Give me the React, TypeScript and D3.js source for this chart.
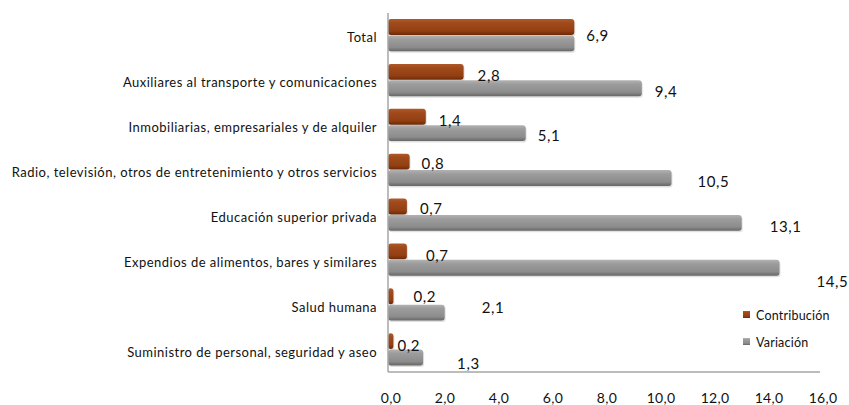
import React from "react";
import * as d3 from "d3";

const categories = [
  "Total",
  "Auxiliares al transporte y comunicaciones",
  "Inmobiliarias, empresariales y de alquiler",
  "Radio, televisión, otros de entretenimiento y otros servicios",
  "Educación superior privada",
  "Expendios de alimentos, bares y similares",
  "Salud humana",
  "Suministro de personal, seguridad y aseo",
];
const contribucion = [6.9, 2.8, 1.4, 0.8, 0.7, 0.7, 0.2, 0.2];
const variacion = [6.9, 9.4, 5.1, 10.5, 13.1, 14.5, 2.1, 1.3];
const seriesNames = ["Contribución", "Variación"];
const xTicks = [0, 2, 4, 6, 8, 10, 12, 14, 16];

// layout nudges for the manually placed value labels (px)
const contribLabelNudge = [
  [12, 8], [14, 3], [13, 3], [12, 1], [13, 1], [19, 3], [20, 0], [4, 4],
];
const varLabelNudge = [
  null, [13, 2], [12, 2], [26, 3], [28, 3], [37, 13], [37, -6], [34, 5],
];

const W = 849;
const H = 405;
const fmt = (v: number) => v.toFixed(1).replace(".", ",");

export default function App() {
  const x = d3.scaleLinear().domain([0, 16]).range([388, 820]);
  const y = d3
    .scaleBand<string>()
    .domain(categories)
    .range([13, 372])
    .paddingInner(0.27)
    .paddingOuter(0.135);
  const sub = d3.scaleBand<string>().domain(seriesNames).range([0, y.bandwidth()]);
  const bh = sub.bandwidth();
  const font = "Lato, 'Open Sans', sans-serif";

  return (
    <svg
      width={W}
      height={H}
      style={{ position: "absolute", left: 0, top: 0, background: "#fff" }}
    >
      <defs>
        <linearGradient id="gBrown" x1="0" y1="0" x2="0" y2="1">
          <stop offset="0" stopColor="#b05a2c" />
          <stop offset="0.25" stopColor="#a04a1c" />
          <stop offset="0.75" stopColor="#933f12" />
          <stop offset="1" stopColor="#6a2a08" />
        </linearGradient>
        <linearGradient id="gGray" x1="0" y1="0" x2="0" y2="1">
          <stop offset="0" stopColor="#b2b2b2" />
          <stop offset="0.25" stopColor="#9c9c9c" />
          <stop offset="0.75" stopColor="#8c8c8c" />
          <stop offset="1" stopColor="#666666" />
        </linearGradient>
      </defs>

      {/* bars */}
      {categories.map((c, i) => {
        const y0 = y(c)!;
        const yc = y0 + sub("Contribución")!;
        const yv = y0 + sub("Variación")!;
        return (
          <g key={c}>
            <rect x={x(0) + 1} y={yc + 1.5} width={x(contribucion[i]) - x(0)} height={bh - 0.5} rx={3} fill="#000" opacity={0.12} />
            <rect x={x(0)} y={yc} width={x(contribucion[i]) - x(0)} height={bh - 0.5} rx={3} fill="url(#gBrown)" />
            <rect x={x(0) + 1} y={yv + 1.5} width={x(variacion[i]) - x(0)} height={bh - 0.5} rx={3} fill="#000" opacity={0.12} />
            <rect x={x(0)} y={yv} width={x(variacion[i]) - x(0)} height={bh - 0.5} rx={3} fill="url(#gGray)" />
          </g>
        );
      })}

      {/* axes */}
      <line x1={x(0)} x2={x(0)} y1={13} y2={372} stroke="#a6a6a6" strokeWidth={1.5} />
      <line x1={x(0)} x2={x(16)} y1={372} y2={372} stroke="#a6a6a6" strokeWidth={1.5} />

      {/* category labels */}
      {categories.map((c) => (
        <text
          key={c}
          x={377}
          y={y(c)! + y.bandwidth() / 2 + 2}
          textAnchor="end"
          dominantBaseline="central"
          fontFamily={font}
          fontSize={13}
          letterSpacing={0.48}
          fill="#111"
        >
          {c}
        </text>
      ))}

      {/* x tick labels */}
      {xTicks.map((t) => (
        <text
          key={t}
          x={x(t) + 3}
          y={397}
          textAnchor="middle"
          dominantBaseline="central"
          fontFamily={font}
          fontSize={14}
          letterSpacing={0.3}
          fill="#111"
        >
          {fmt(t)}
        </text>
      ))}

      {/* value labels */}
      {categories.map((c, i) => {
        const y0 = y(c)!;
        const cn = contribLabelNudge[i];
        const vn = varLabelNudge[i];
        return (
          <g key={c} fontFamily={font} fontSize={15} letterSpacing={0.6} fill="#111" dominantBaseline="central">
            <text x={x(contribucion[i]) + cn[0]} y={y0 + sub("Contribución")! + bh / 2 + cn[1]}>
              {fmt(contribucion[i])}
            </text>
            {vn && (
              <text x={x(variacion[i]) + vn[0]} y={y0 + sub("Variación")! + bh / 2 + vn[1]}>
                {fmt(variacion[i])}
              </text>
            )}
          </g>
        );
      })}

      {/* legend */}
      <rect x={743} y={311} width={7} height={7} fill="url(#gBrown)" />
      <text x={756} y={315} dominantBaseline="central" fontFamily={font} fontSize={12.5} letterSpacing={0.2} fill="#111">
        {seriesNames[0]}
      </text>
      <rect x={743} y={338} width={7} height={7} fill="url(#gGray)" />
      <text x={756} y={342} dominantBaseline="central" fontFamily={font} fontSize={12.5} letterSpacing={0.2} fill="#111">
        {seriesNames[1]}
      </text>
    </svg>
  );
}
